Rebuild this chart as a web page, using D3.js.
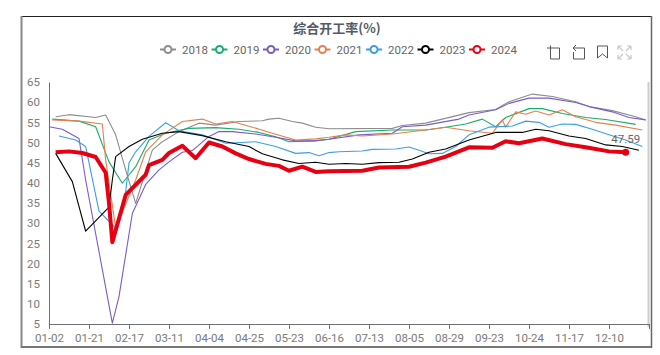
<!DOCTYPE html>
<html lang="en">
<head>
    <meta charset="UTF-8">
    <title>综合开工率</title>
    <script src="https://d3js.org/d3.v7.min.js"></script>
    <style>
        html, body { margin: 0; padding: 0; background: #fff; }
        svg { display: block; }
        text { font-family: Roboto, "Noto Sans CJK SC", sans-serif; fill: #666; }
        .axis text { font-size: 11.5px; fill: #7a7a7a; }
        .axis path, .axis line { stroke: #6e7079; }
    </style>
</head>
<body>
<svg viewBox="0 0 660 355" width="660" height="355"></svg>
<script>
    // category positions on the x axis (180 steps, a label every 12 steps)
    const tickLabels = ["01-02","01-21","02-17","03-11","04-04","04-25","05-23","06-16","07-13","08-05","08-29","09-23","10-24","11-17","12-10"];
    const years = ["2018","2019","2020","2021","2022","2023","2024"];
    const colors = {"2018":"#8c8c8c","2019":"#1bab6b","2020":"#7a5cc4","2021":"#e5804c","2022":"#3c9fe0","2023":"#000000","2024":"#e60012"};

    const idx2018 = [2,6,14,17,20,23,26,31,34,39,45,50,57,64,66,69,73,76,80,84,103,106,113,126,134,138,145,151,158,162,169,176,179];
    const val2018 = [56.4,56.9,56.2,56.8,51.9,43.2,34.9,48.1,50.2,52.7,54.8,54.3,55.2,55.4,55.8,56,55.2,54.8,53.8,53.4,53.5,54.2,54.8,57.4,58.2,60.1,62,61.4,60.1,58.9,57.9,56.4,55.6];

    const idx2019 = [1,9,14,18,22,26,30,35,42,50,57,63,68,72,80,84,92,103,113,119,125,130,134,137,144,148,154,161,167,176];
    const val2019 = [55.8,55.3,53.9,45.2,39.9,44,50.6,52.3,53.5,53.7,53.3,52.5,51.4,50.2,50.4,50.8,52.7,53.1,53.1,53.8,54.6,55.8,53.9,56.2,58.4,58.4,57.2,56.2,55.7,54.5];

    const idx2020 = [0,4,9,11,19,21,25,29,33,36,40,43,48,51,55,62,68,74,79,84,93,103,106,113,123,126,134,138,144,150,158,163,169,174,179];
    const val2020 = [53.9,53.3,51,40.7,5.2,11.8,32.4,39.6,43.2,45.2,47.6,48,51.5,52.7,52.7,52.1,51.3,50.4,50.4,50.8,51.9,52.3,53.9,54.3,55.8,56.8,58.1,59.7,61,61,59.9,58.7,57.6,56.2,55.6];

    const idx2021 = [1,9,16,17,20,26,29,34,40,46,50,55,61,67,74,80,84,89,94,103,113,119,126,133,136,137,140,143,146,150,154,158,164,170,178];
    const val2021 = [55.6,55.3,54.6,45.7,28.8,40.7,47.7,51.9,55.2,55.8,54.6,55.2,53.8,52.3,50.6,50.9,51.3,51.9,51.6,52.1,53.1,53.8,52.9,52.3,55.6,53.8,57.6,57,57.8,56.8,58.1,56.4,55,54.3,53.1];

    const idx2022 = [3,8,11,15,20,23,24,26,30,35,39,46,53,62,68,74,78,81,84,87,94,97,104,108,111,114,118,122,126,132,139,143,147,150,154,158,163,168,173,178];
    const val2022 = [51.6,50.6,49,33,28.8,37.8,44.9,47.7,51.5,54.9,52.9,51.9,49.8,50.2,49,47.3,47.5,46.7,47.5,47.7,47.9,48.3,48.4,48.9,48.1,47.2,47.3,49,51.9,53.8,54.1,55.3,55,53.8,54.6,54.5,53.3,51.9,50.6,49];

    const idx2023 = [2,7,11,18,19,20,24,28,34,39,46,53,60,64,70,75,80,84,89,94,99,105,109,114,119,126,134,142,146,150,156,161,167,172,177];
    const val2023 = [47.3,40.3,28,34,40.7,46.5,49,50.8,52.3,52.7,51.7,50.2,49,47.2,45.7,44.8,45.1,44.6,44.8,44.6,45,45.1,45.9,47.6,48.4,50.6,52.5,52.5,53.3,52.9,51.6,51,49.4,49,48.1];

    const idx2024 = [2,6,10,14,17,18,19,23,29,30,34,36,40,44,48,52,56,60,65,69,72,76,80,84,94,99,108,113,119,126,133,137,141,148,155,161,168,173];
    const val2024 = [47.6,47.8,47.4,46.4,42.5,35,25.3,37,42,44.4,45.7,47.4,49.2,46.1,50,49,47.3,45.9,44.7,44.2,43,44,42.7,42.9,43,43.8,44,45,46.5,48.8,48.7,50.3,49.8,51,49.6,48.8,47.8,47.59];

    const seriesIdx = {"2018":idx2018,"2019":idx2019,"2020":idx2020,"2021":idx2021,"2022":idx2022,"2023":idx2023,"2024":idx2024};
    const seriesVal = {"2018":val2018,"2019":val2019,"2020":val2020,"2021":val2021,"2022":val2022,"2023":val2023,"2024":val2024};
    const lastLabel = 47.59;

    const svg = d3.select("svg");

    const xScale = d3.scaleLinear().domain([0,180]).range([49,649]);
    const yScale = d3.scaleLinear().domain([5,65]).range([324,82]);

    // frame of the screenshot
    svg.append("line").attr("x1",21).attr("x2",652).attr("y1",16.5).attr("y2",16.5).attr("stroke","#222").attr("stroke-width",1);
    svg.append("line").attr("x1",21.5).attr("x2",21.5).attr("y1",16).attr("y2",348).attr("stroke","#888").attr("stroke-width",2);
    svg.append("line").attr("x1",21).attr("x2",652).attr("y1",347).attr("y2",347).attr("stroke","#777").attr("stroke-width",2);
    svg.append("line").attr("x1",651.5).attr("x2",651.5).attr("y1",16).attr("y2",348).attr("stroke","#666").attr("stroke-width",1.5);
    svg.append("line").attr("x1",648.5).attr("x2",648.5).attr("y1",82).attr("y2",327).attr("stroke","#ccc").attr("stroke-width",2);

    // axes
    svg.append("g").attr("class","axis")
        .attr("transform","translate(0,324)")
        .call(d3.axisBottom(xScale)
            .tickValues(d3.range(0,181,12))
            .tickSize(5).tickPadding(5)
            .tickFormat((d,i)=>tickLabels[i]||""));
    let yAxis = svg.append("g").attr("class","axis")
        .attr("transform","translate(49,0)")
        .call(d3.axisLeft(yScale).tickValues(d3.range(5,66,5)).tickSize(0).tickPadding(9));
    yAxis.select("path").attr("stroke","#aaa");

    // lines
    const line = d3.line().x(d=>xScale(d[0])).y(d=>yScale(d[1]));
    years.forEach(y=>{
        const pts = d3.zip(seriesIdx[y],seriesVal[y]);
        svg.append("path").datum(pts)
            .attr("d",line)
            .attr("fill","none")
            .attr("stroke",colors[y])
            .attr("stroke-width",y==="2024"?4:1.1)
            .attr("stroke-linejoin","round");
    });

    // end point and its label on 2024
    const endX = xScale(idx2024[idx2024.length-1]);
    const endY = yScale(val2024[val2024.length-1]);
    svg.append("circle").attr("cx",endX).attr("cy",endY).attr("r",3.5).attr("fill",colors["2024"]);
    svg.append("text").attr("x",endX).attr("y",endY-9).attr("text-anchor","middle")
        .style("font-size","11.5px").text(lastLabel);

    // title
    svg.append("text").attr("x",337).attr("y",33).attr("text-anchor","middle")
        .style("font-size","13px").style("font-weight","bold").style("font-family",'"Noto Sans CJK SC", sans-serif').style("fill","#555a66")
        .text("综合开工率(%)");

    // legend
    const legendX = d3.scaleLinear().domain([0,6]).range([160,469]);
    years.forEach((y,i)=>{
        const g = svg.append("g").attr("transform",`translate(${legendX(i)},49.5)`);
        g.append("line").attr("x1",0).attr("x2",16).attr("stroke",colors[y]).attr("stroke-width",2);
        g.append("circle").attr("cx",8).attr("r",3.5).attr("fill","#fff").attr("stroke",colors[y]).attr("stroke-width",2);
        g.append("text").attr("x",22).attr("y",4).style("font-size","11.5px").text(y);
    });

    // toolbox icons
    const tools = [
        "M550.500 45.500v13.500h9v-11h-12.500",
        "M576 45l-3 3 3 3M573 48h11.500v11h-11v-7",
        "M597.500 46h10v12l-5-4-5 4z",
        "M618 46l5 5M631 46l-5 5M618 59l5-5M631 59l-5-5M618 46h4M618 46v4M631 46h-4M631 46v4M618 59h4M618 59v-4M631 59h-4M631 59v-4"
    ];
    svg.selectAll("path.tool").data(tools).enter().append("path").attr("class","tool")
        .attr("d",d=>d).attr("fill","none")
        .attr("stroke",(d,i)=>i===3?"#c8c8c8":"#555").attr("stroke-width",(d,i)=>i===3?1.2:1);
</script>
</body>
</html>
